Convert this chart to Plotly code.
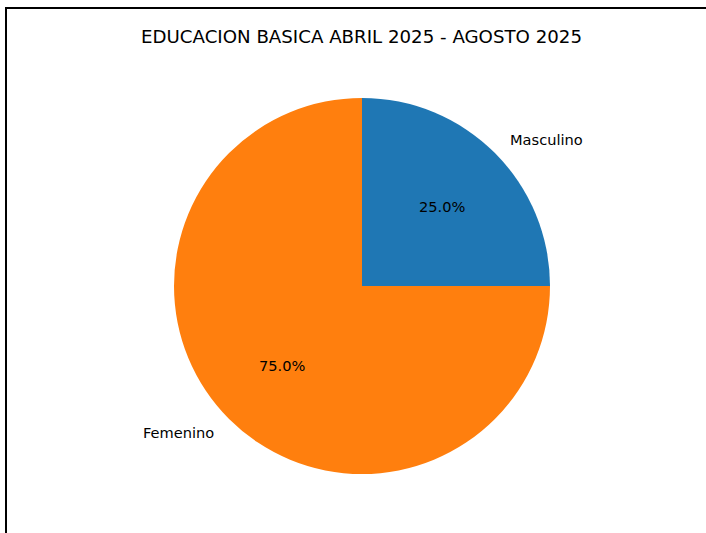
import math
import plotly.graph_objects as go

labels = ["Masculino", "Femenino"]
values = [25, 75]
colors = ["#1f77b4", "#ff7f0e"]
title = "EDUCACION BASICA ABRIL 2025 - AGOSTO 2025"

W, H = 706, 533
CX, CY, R = 362, 286, 188  # pie centre / radius in pixels (layout)
FONT = "DejaVu Sans"

fig = go.Figure()
fig.add_trace(go.Pie(
    labels=labels, values=values, sort=False, direction="clockwise", rotation=0,
    marker=dict(colors=colors, line=dict(width=0)),
    textinfo="none", hoverinfo="label+percent", showlegend=False,
    domain=dict(x=[(CX - R) / W, (CX + R) / W], y=[1 - (CY + R) / H, 1 - (CY - R) / H]),
))

total = sum(values)
anns = []
cum = 0
for lab, v in zip(labels, values):
    mid = (cum + v / 2) / total * 360.0
    cum += v
    ang = math.radians(90 - mid)
    c, s = math.cos(ang), math.sin(ang)
    # outer label
    lx, ly = CX + 1.1 * R * c, CY - 1.1 * R * s
    anns.append(dict(x=lx / W, y=1 - ly / H, xref="paper", yref="paper", text=lab,
                     showarrow=False, xanchor="left" if c >= 0 else "right", yanchor="middle",
                     font=dict(family=FONT, size=14.6, color="black")))
    # percent label
    px, py = CX + 0.6 * R * c, CY - 0.6 * R * s
    anns.append(dict(x=px / W, y=1 - py / H, xref="paper", yref="paper",
                     text=f"{100.0 * v / total:.1f}%", showarrow=False,
                     xanchor="center", yanchor="middle",
                     font=dict(family=FONT, size=14.6, color="black")))

anns.append(dict(x=CX / W, y=1 - 37 / H, xref="paper", yref="paper", text=title,
                 showarrow=False, xanchor="center", yanchor="middle",
                 font=dict(family=FONT, size=18.2, color="black")))

fig.update_layout(
    width=W, height=H, margin=dict(l=0, r=0, t=0, b=0),
    paper_bgcolor="white", plot_bgcolor="white",
    annotations=anns,
    shapes=[dict(type="rect", xref="paper", yref="paper",
                 x0=6 / W, x1=1.05, y0=-0.05, y1=1 - 8 / H,
                 line=dict(color="black", width=2))],
)

fig.write_html("out.html", config={"displayModeBar": False},
               post_script="document.body.style.margin='0';")
